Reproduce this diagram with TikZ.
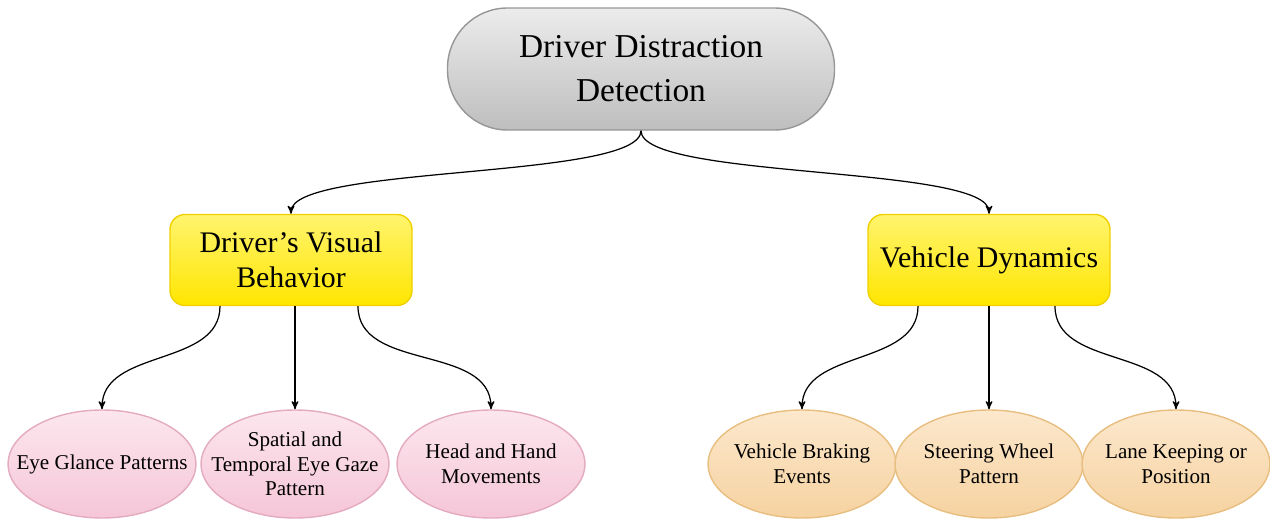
\documentclass[tikz,border=0pt]{standalone}
\usepackage{fontspec}
\setmainfont{Liberation Serif}
\usepackage{tikz}
\usetikzlibrary{arrows,shapes,backgrounds}

\definecolor{greytop}{RGB}{236,236,236}
\definecolor{greyfill}{RGB}{190,190,190}
\definecolor{greyedge}{RGB}{150,150,150}
\definecolor{yellowtop}{RGB}{255,244,110}
\definecolor{yellowfill}{RGB}{255,230,0}
\definecolor{yellowedge}{RGB}{240,208,0}
\definecolor{pinktop}{RGB}{252,230,238}
\definecolor{pinkfill}{RGB}{245,198,215}
\definecolor{pinkedge}{RGB}{228,170,192}
\definecolor{peachtop}{RGB}{252,232,205}
\definecolor{peachfill}{RGB}{246,210,160}
\definecolor{peachedge}{RGB}{232,190,128}

\begin{document}
\begin{tikzpicture}[>=stealth',auto]
  \tikzstyle{root}=[rectangle,rounded corners=1.2cm,draw=greyedge,thick,
  		    top color=greytop,bottom color=greyfill,
  		    minimum width=7.74cm,minimum height=2.44cm,align=center,
  		    font=\fontsize{19}{25}\selectfont]
  \tikzstyle{branch}=[rectangle,rounded corners=3mm,draw=yellowedge,thick,
  		      top color=yellowtop,bottom color=yellowfill,
  		      minimum width=4.84cm,minimum height=1.82cm,align=center,
  		      font=\fontsize{17}{20}\selectfont]
  \tikzstyle{leaf}=[ellipse,thick,minimum width=3.76cm,minimum height=2.16cm,
  		    inner xsep=-0.7cm,inner ysep=-0.4cm,align=center,
  		    font=\fontsize{12}{14}\selectfont]
  \tikzstyle{pink leaf}=[leaf,draw=pinkedge,top color=pinktop,bottom color=pinkfill]
  \tikzstyle{peach leaf}=[leaf,draw=peachedge,top color=peachtop,bottom color=peachfill]
  \tikzstyle{pre}=[<-,line width=0.7pt]
  \useasboundingbox (0,0) rectangle (25.4,-10.42);

  \node [root] (ddd) at (12.82,-1.38) {Driver Distraction\\Detection};

  % visual behaviour side
  \begin{scope}[xshift=5.82cm,yshift=-5.2cm]
    \node [branch] (dvb) at (0,0) {Driver's Visual\\Behavior}
      edge [pre,out=90,in=-90,looseness=0.35] (ddd.south);
    \node [pink leaf] (egp) at (-3.78,-4.08) {Eye Glance Patterns}
      edge [pre,out=90,in=-90] ([xshift=-1.42cm]dvb.south);
    \node [pink leaf] (stg) at (0.08,-4.08) {Spatial and\\Temporal Eye Gaze\\Pattern}
      edge [pre] ([xshift=0.08cm]dvb.south);
    \node [pink leaf] (hhm) at (4.0,-4.08) {Head and Hand\\Movements}
      edge [pre,out=90,in=-90] ([xshift=1.34cm]dvb.south);
  \end{scope}

  % vehicle side
  \begin{scope}[xshift=19.78cm,yshift=-5.2cm]
    \node [branch] (vdy) at (0,0) {Vehicle Dynamics}
      edge [pre,out=90,in=-90,looseness=0.35] (ddd.south);
    \node [peach leaf] (vbe) at (-3.74,-4.08) {Vehicle Braking\\Events}
      edge [pre,out=90,in=-90] ([xshift=-1.42cm]vdy.south);
    \node [peach leaf] (swp) at (0,-4.08) {Steering Wheel\\Pattern}
      edge [pre] (vdy.south);
    \node [peach leaf] (lkp) at (3.74,-4.08) {Lane Keeping or\\Position}
      edge [pre,out=90,in=-90] ([xshift=1.32cm]vdy.south);
  \end{scope}
\end{tikzpicture}
\end{document}
